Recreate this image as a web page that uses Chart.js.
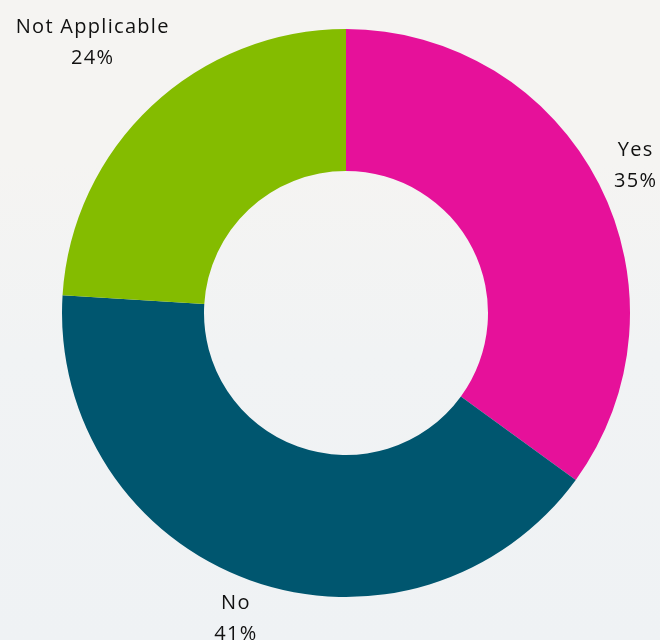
<!DOCTYPE html>
<html>
<head>
<meta charset="utf-8">
<script src="https://cdn.jsdelivr.net/npm/chart.js@4.4.0/dist/chart.umd.min.js"></script>
<style>
  html, body { margin: 0; padding: 0; }
  body {
    width: 660px; height: 640px; overflow: hidden;
    background: linear-gradient(180deg, #f5f4f2 0%, #f5f4f2 25%, #f1f3f4 55%, #eff2f4 100%);
  }
  #wrap { position: relative; width: 660px; height: 640px; }
</style>
</head>
<body>
<div id="wrap"><canvas id="donut"></canvas></div>
<script>
// answers and their share of responses (%)
var labels = ['Yes', 'No', 'Not Applicable'];
var values = [35, 41, 24];
var colors = ['#e6119a', '#00566f', '#84bc00'];

// draws "name / pct%" outside each slice, along the slice's middle angle
var outsideLabels = {
  id: 'outsideLabels',
  afterDatasetsDraw: function (chart, args, opts) {
    var ctx = chart.ctx;
    var meta = chart.getDatasetMeta(0);
    ctx.save();
    ctx.font = opts.size + 'px ' + opts.family;
    ctx.letterSpacing = opts.spacing;
    ctx.fillStyle = opts.color;
    ctx.textAlign = 'center';
    ctx.textBaseline = 'middle';
    meta.data.forEach(function (arc, i) {
      var mid = (arc.startAngle + arc.endAngle) / 2;
      var r = arc.outerRadius + (opts.gap[i] || opts.gap[0]);
      var x = arc.x + Math.cos(mid) * r;
      var y = arc.y + Math.sin(mid) * r;
      var lines = [chart.data.labels[i], values[i] + '%'];
      var w = Math.max.apply(null, lines.map(function (t) { return ctx.measureText(t).width; }));
      x = Math.min(Math.max(x, w / 2 + 2), chart.width - w / 2 - 2);
      ctx.fillText(lines[0], x, y - opts.lineH / 2);
      ctx.fillText(lines[1], x, y + opts.lineH / 2);
    });
    ctx.restore();
  }
};

var ctx = document.getElementById('donut').getContext('2d');
var myChart = new Chart(ctx, {
  type: 'doughnut',
  data: {
    labels: labels,
    datasets: [{
      data: values,
      backgroundColor: colors,
      borderWidth: 0,
      hoverOffset: 0
    }]
  },
  options: {
    responsive: true,
    maintainAspectRatio: false,
    animation: false,
    cutout: '50%',
    layout: { padding: { left: 62, right: 30, top: 29, bottom: 43 } },
    plugins: {
      legend: { display: false },
      tooltip: { enabled: false },
      outsideLabels: {
        family: '"Open Sans", sans-serif',
        size: 20,
        spacing: '1.3px',
        color: '#111111',
        lineH: 31,
        gap: [41, 41, 86]
      }
    }
  },
  plugins: [outsideLabels]
});
</script>
</body>
</html>
